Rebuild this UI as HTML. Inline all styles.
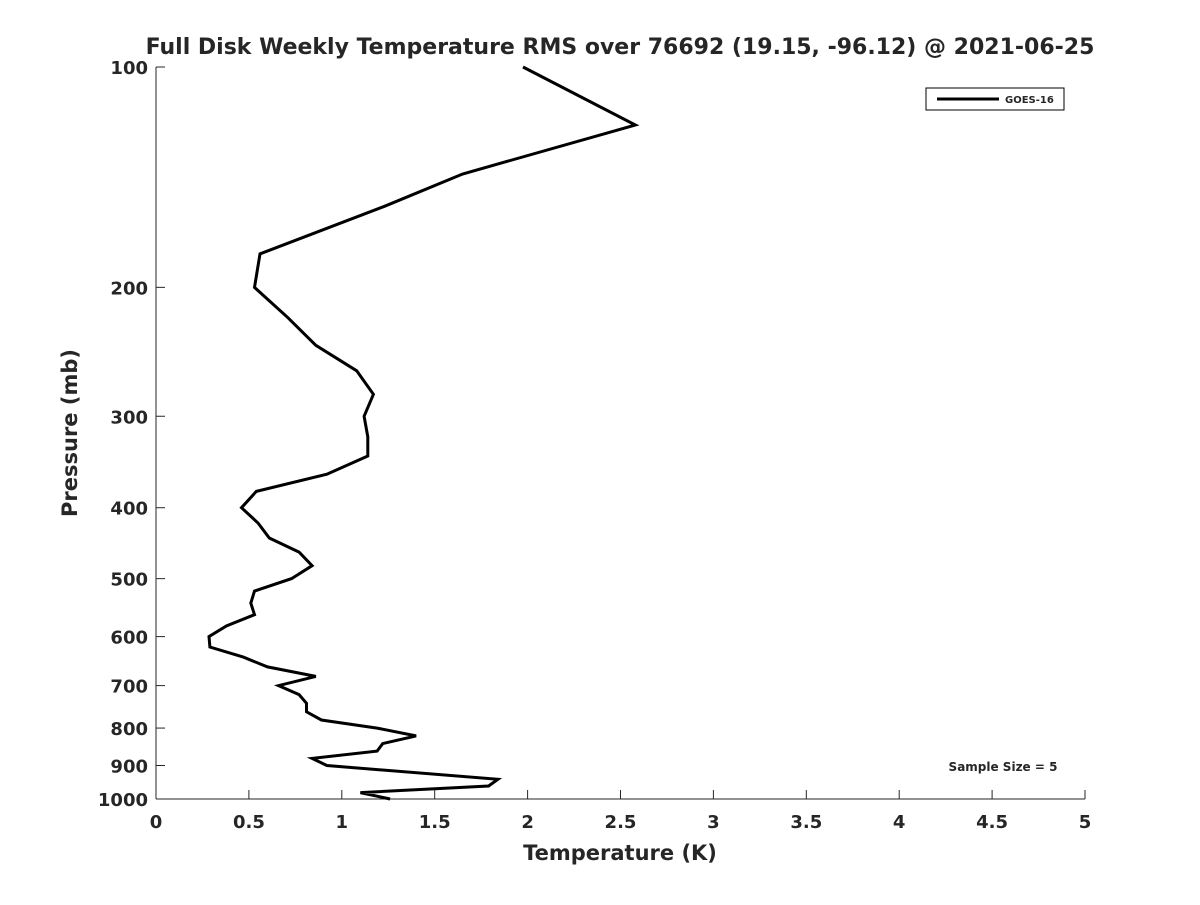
<!DOCTYPE html>
<html><head><meta charset="utf-8"><style>
body{margin:0;background:#fff;}
svg text{font-family:"DejaVu Sans","Liberation Sans",sans-serif;font-weight:bold;fill:#262626;}
</style></head><body>
<svg id="chart" width="1200" height="900" viewBox="0 0 1200 900">
<rect width="1200" height="900" fill="#fff"/>
<text x="620" y="54" font-size="22" text-anchor="middle" fill="#000">Full Disk Weekly Temperature RMS over 76692 (19.15, -96.12) @ 2021-06-25</text>
<g id="axes"></g>
<g id="series"></g>
<g>
<rect x="926" y="88" width="138" height="22" fill="#fff" stroke="#000" stroke-width="1"/>
<line x1="937" y1="99" x2="999" y2="99" stroke="#000" stroke-width="3"/>
<text x="1005" y="103" font-size="10">GOES-16</text>
</g>
<text x="1003" y="771" font-size="12" text-anchor="middle" fill="#000">Sample Size = 5</text>
<text x="620" y="860" font-size="21" text-anchor="middle">Temperature (K)</text>
<text transform="translate(77,433) rotate(-90)" font-size="21" text-anchor="middle">Pressure (mb)</text>
</svg>
<script>
const xTicks=[0,0.5,1,1.5,2,2.5,3,3.5,4,4.5,5];
const xTickLabels=["0","0.5","1","1.5","2","2.5","3","3.5","4","4.5","5"];
const yTicks=[100,200,300,400,500,600,700,800,900,1000];
const yTickLabels=["100","200","300","400","500","600","700","800","900","1000"];
const pressures=[100,120,140,155,180,200,220,240,260,280,300,320,340,360,380,400,420,440,460,480,500,520,540,560,580,600,620,640,660,680,700,720,740,760,780,800,820,840,860,880,900,940,960,980,1000];
const rmsValues=[1.975,2.58,1.65,1.23,0.56,0.53,0.71,0.86,1.08,1.17,1.12,1.14,1.14,0.92,0.54,0.46,0.55,0.61,0.77,0.84,0.73,0.53,0.51,0.53,0.38,0.285,0.29,0.47,0.60,0.86,0.66,0.77,0.81,0.81,0.89,1.19,1.40,1.22,1.19,0.84,0.92,1.84,1.79,1.10,1.26];
const X0=156,X1=1085,Y0=67,Y1=799;
function xs(v){return X0+(v-0)/(5-0)*(X1-X0);}
function ys(p){return Y0+(Math.log10(p)-2)/(3-2)*(Y1-Y0);}
const NS="http://www.w3.org/2000/svg";
const axes=document.getElementById('axes');
function mk(tag,attrs,parent){const e=document.createElementNS(NS,tag);for(const k in attrs)e.setAttribute(k,attrs[k]);parent.appendChild(e);return e;}
const xa=mk('line',{x1:X0,y1:Y1,x2:X1,y2:Y1,stroke:'#262626','stroke-width':1},axes);


const ya=mk('line',{x1:X0,y1:Y0,x2:X0,y2:Y1,stroke:'#262626','stroke-width':1},axes);


xTicks.forEach((v,i)=>{
 const x=xs(v);
 const t=mk('line',{x1:x,y1:Y1,x2:x,y2:Y1-9,stroke:'#262626'},axes);
 
 
 const l=mk('text',{x:x,y:Y1+29,'font-size':18,'text-anchor':'middle'},axes);
 l.textContent=xTickLabels[i];
 
 
});
yTicks.forEach((p,i)=>{
 const y=ys(p);
 const t=mk('line',{x1:X0,y1:y,x2:X0+9,y2:y,stroke:'#262626'},axes);
 
 
 const l=mk('text',{x:X0-8,y:y+7,'font-size':18,'text-anchor':'end'},axes);
 l.textContent=yTickLabels[i];
 
 
});
const pts=pressures.map((p,i)=>xs(rmsValues[i]).toFixed(1)+','+ys(p).toFixed(1)).join(' ');
const line=mk('polyline',{points:pts,fill:'none',stroke:'#000','stroke-width':3,'stroke-linejoin':'miter'},document.getElementById('series'));


</script>
</body></html>
